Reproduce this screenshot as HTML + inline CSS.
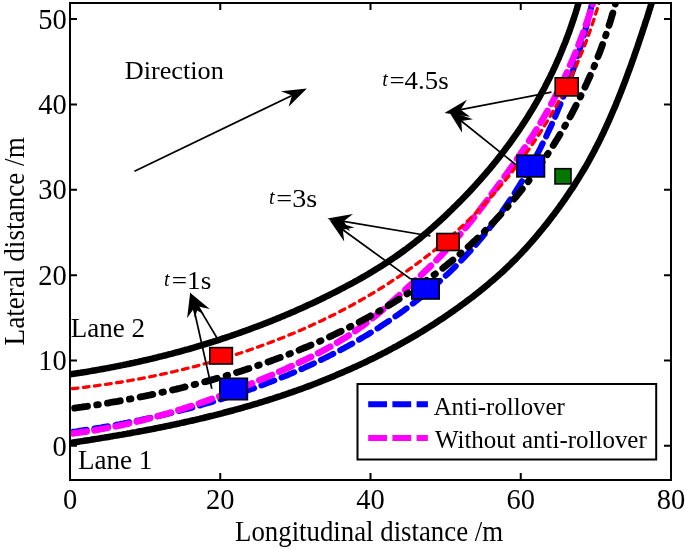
<!DOCTYPE html>
<html><head><meta charset="utf-8"><style>html,body{margin:0;padding:0;background:#fff;width:685px;height:549px;overflow:hidden}svg{display:block;will-change:transform}</style></head>
<body><svg width="685" height="549" viewBox="0 0 685 549"><rect x="0" y="0" width="685" height="549" fill="#fff"/><defs><clipPath id="ax"><rect x="70" y="3" width="601" height="477"/></clipPath></defs><g clip-path="url(#ax)" fill="none"><path d="M59.6,433.6L61.4,433.4L63.2,433.1L65.0,432.9L66.8,432.6L68.6,432.4L70.4,432.1L72.3,431.9L74.1,431.6L75.9,431.4L77.7,431.1L79.5,430.8L81.4,430.6L83.2,430.3L85.0,430.0L86.8,429.7L88.7,429.4L90.5,429.2L92.3,428.9L94.2,428.6L96.0,428.3L97.8,428.0L99.6,427.7L101.5,427.4L103.3,427.0L105.1,426.7L107.0,426.4L108.8,426.1L110.6,425.8L112.5,425.4L114.3,425.1L116.1,424.8L118.0,424.4L119.8,424.1L121.7,423.7L123.5,423.4L125.3,423.0L127.2,422.7L129.0,422.3L130.8,421.9L132.7,421.6L134.5,421.2L136.4,420.8L138.2,420.4L140.0,420.1L141.9,419.7L143.7,419.3L145.5,418.9L147.4,418.5L149.2,418.1L151.1,417.7L152.9,417.3L154.7,416.9L156.6,416.4L158.4,416.0L160.2,415.6L162.1,415.2L163.9,414.7L165.8,414.3L167.6,413.9L169.4,413.4L171.3,413.0L173.1,412.5L174.9,412.1L176.8,411.6L178.6,411.1L180.4,410.7L182.3,410.2L184.1,409.7L185.9,409.2L187.7,408.8L189.6,408.3L191.4,407.8L193.2,407.3L195.1,406.8L196.9,406.3L198.7,405.8L200.5,405.3L202.3,404.7L204.2,404.2L206.0,403.7L207.8,403.2L209.6,402.6L211.4,402.1L213.3,401.6L215.1,401.0L216.9,400.5L218.7,399.9L220.5,399.3L222.3,398.8L224.1,398.2L225.9,397.6L227.7,397.1L229.5,396.5L231.3,395.9L233.1,395.3L234.9,394.7L236.7,394.1L238.5,393.5L240.3,392.9L242.1,392.3L243.9,391.7L245.7,391.1L247.5,390.5L249.3,389.8L251.1,389.2L252.9,388.6L254.6,387.9L256.4,387.3L258.2,386.6L260.0,386.0L261.7,385.3L263.5,384.6L265.3,384.0L267.1,383.3L268.8,382.6L270.6,381.9L272.4,381.3L274.1,380.6L275.9,379.9L277.6,379.2L279.4,378.5L281.1,377.8L282.9,377.0L284.6,376.3L286.4,375.6L288.1,374.9L289.9,374.1L291.6,373.4L293.3,372.6L295.1,371.9L296.8,371.1L298.5,370.4L300.2,369.6L302.0,368.9L303.7,368.1L305.4,367.3L307.1,366.5L308.8,365.7L310.5,365.0L312.2,364.2L313.9,363.4L315.6,362.6L317.3,361.7L319.0,360.9L320.7,360.1L322.4,359.3L324.1,358.4L325.8,357.6L327.5,356.8L329.1,355.9L330.8,355.1L332.5,354.2L334.2,353.4L335.8,352.5L337.5,351.6L339.1,350.7L340.8,349.9L342.4,349.0L344.1,348.1L345.7,347.2L347.4,346.3L349.0,345.4L350.7,344.5L352.3,343.6L353.9,342.6L355.5,341.7L357.2,340.8L358.8,339.8L360.4,338.9L362.0,337.9L363.6,337.0L365.2,336.0L366.8,335.1L368.4,334.1L370.0,333.1L371.6,332.1L373.2,331.1L374.7,330.2L376.3,329.2L377.9,328.2L379.5,327.2L381.0,326.1L382.6,325.1L384.1,324.1L385.7,323.1L387.2,322.0L388.8,321.0L390.3,319.9L391.9,318.9L393.4,317.8L394.9,316.8L396.4,315.7L398.0,314.6L399.5,313.6L401.0,312.5L402.5,311.4L404.0,310.3L405.5,309.2L407.0,308.1L408.5,307.0L410.0,305.8L411.4,304.7L412.9,303.6L414.4,302.5L415.8,301.3L417.3,300.2L418.8,299.0L420.2,297.9L421.7,296.7L423.1,295.5L424.5,294.4L426.0,293.2L427.4,292.0L428.8,290.8L430.2,289.6L431.6,288.4L433.0,287.2L434.4,286.0L435.8,284.7L437.2,283.5L438.6,282.3L440.0,281.0L441.4,279.8L442.7,278.5L444.1,277.3L445.5,276.0L446.8,274.7L448.2,273.5L449.5,272.2L450.9,270.9L452.2,269.6L453.5,268.3L454.9,267.0L456.2,265.7L457.5,264.4L458.8,263.1L460.1,261.7L461.4,260.4L462.7,259.0L464.0,257.7L465.2,256.3L466.5,255.0L467.8,253.6L469.0,252.2L470.3,250.9L471.5,249.5L472.8,248.1L474.0,246.7L475.3,245.3L476.5,243.9L477.7,242.5L478.9,241.0L480.1,239.6L481.3,238.2L482.5,236.8L483.7,235.3L484.9,233.9L486.1,232.4L487.3,231.0L488.4,229.5L489.6,228.0L490.8,226.5L491.9,225.1L493.0,223.6L494.2,222.1L495.3,220.6L496.4,219.1L497.6,217.6L498.7,216.1L499.8,214.6L500.9,213.1L502.0,211.5L503.1,210.0L504.2,208.5L505.3,206.9L506.3,205.4L507.4,203.8L508.5,202.3L509.5,200.7L510.6,199.2L511.6,197.6L512.6,196.0L513.7,194.5L514.7,192.9L515.7,191.3L516.7,189.7L517.7,188.1L518.7,186.5L519.7,184.9L520.7,183.3L521.7,181.7L522.7,180.1L523.6,178.5L524.6,176.9L525.6,175.2L526.5,173.6L527.5,172.0L528.4,170.4L529.3,168.7L530.2,167.1L531.2,165.4L532.1,163.8L533.0,162.1L533.9,160.5L534.8,158.8L535.7,157.2L536.6,155.5L537.4,153.8L538.3,152.1L539.2,150.5L540.0,148.8L540.9,147.1L541.7,145.4L542.6,143.7L543.4,142.0L544.3,140.4L545.1,138.7L545.9,137.0L546.7,135.3L547.5,133.5L548.3,131.8L549.1,130.1L549.9,128.4L550.7,126.7L551.5,125.0L552.2,123.3L553.0,121.5L553.8,119.8L554.5,118.1L555.3,116.4L556.0,114.6L556.8,112.9L557.5,111.1L558.2,109.4L558.9,107.7L559.7,105.9L560.4,104.2L561.1,102.4L561.8,100.7L562.5,98.9L563.2,97.2L563.8,95.4L564.5,93.7L565.2,91.9L565.9,90.1L566.5,88.4L567.2,86.6L567.8,84.8L568.5,83.1L569.1,81.3L569.8,79.5L570.4,77.8L571.0,76.0L571.6,74.2L572.2,72.4L572.9,70.7L573.5,68.9L574.1,67.1L574.7,65.3L575.2,63.5L575.8,61.7L576.4,60.0L577.0,58.2L577.5,56.4L578.1,54.6L578.7,52.8L579.2,51.0L579.8,49.2L580.3,47.4L580.8,45.7L581.4,43.9L581.9,42.1L582.4,40.3L582.9,38.5L583.5,36.7L584.0,34.9L584.5,33.1L585.0,31.3L585.4,29.5L585.9,27.7L586.4,25.9L586.9,24.1L587.4,22.3L587.8,20.5L588.3,18.7L588.8,16.9L589.2,15.1L589.7,13.3L590.1,11.5L590.5,9.8L591.0,8.0L591.4,6.2L591.8,4.4L592.3,2.6L592.7,0.8L593.1,-1.0L593.5,-2.8L593.9,-4.6L594.3,-6.4" stroke="#0000ff" stroke-width="6" stroke-dasharray="13.8 7.8" stroke-dashoffset="8.04" stroke-linecap="round"/><path d="M59.3,435.0L61.1,434.8L63.0,434.6L64.8,434.4L66.7,434.2L68.5,434.0L70.3,433.8L72.2,433.5L74.0,433.3L75.9,433.1L77.7,432.8L79.5,432.6L81.4,432.3L83.2,432.1L85.0,431.8L86.9,431.5L88.7,431.2L90.5,430.9L92.4,430.7L94.2,430.4L96.0,430.0L97.8,429.7L99.6,429.4L101.5,429.1L103.3,428.8L105.1,428.4L106.9,428.1L108.7,427.7L110.5,427.4L112.4,427.0L114.2,426.7L116.0,426.3L117.8,425.9L119.6,425.5L121.4,425.2L123.2,424.8L125.0,424.4L126.8,424.0L128.6,423.6L130.4,423.2L132.2,422.7L134.0,422.3L135.8,421.9L137.6,421.4L139.4,421.0L141.2,420.6L143.0,420.1L144.8,419.7L146.6,419.2L148.3,418.7L150.1,418.3L151.9,417.8L153.7,417.3L155.5,416.8L157.3,416.3L159.0,415.8L160.8,415.4L162.6,414.8L164.4,414.3L166.1,413.8L167.9,413.3L169.7,412.8L171.5,412.3L173.2,411.7L175.0,411.2L176.8,410.7L178.5,410.1L180.3,409.6L182.1,409.0L183.8,408.4L185.6,407.9L187.3,407.3L189.1,406.7L190.8,406.2L192.6,405.6L194.4,405.0L196.1,404.4L197.9,403.8L199.6,403.2L201.4,402.6L203.1,402.0L204.9,401.4L206.6,400.8L208.4,400.2L210.1,399.6L211.8,398.9L213.6,398.3L215.3,397.7L217.1,397.1L218.8,396.4L220.5,395.8L222.3,395.1L224.0,394.5L225.7,393.8L227.5,393.2L229.2,392.5L230.9,391.8L232.6,391.2L234.4,390.5L236.1,389.8L237.8,389.1L239.5,388.5L241.3,387.8L243.0,387.1L244.7,386.4L246.4,385.7L248.1,385.0L249.9,384.3L251.6,383.6L253.3,382.9L255.0,382.2L256.7,381.4L258.4,380.7L260.1,380.0L261.8,379.3L263.5,378.6L265.2,377.8L266.9,377.1L268.6,376.4L270.3,375.6L272.0,374.9L273.7,374.1L275.4,373.4L277.1,372.6L278.8,371.9L280.5,371.1L282.2,370.4L283.9,369.6L285.6,368.9L287.3,368.1L289.0,367.3L290.7,366.5L292.4,365.8L294.0,365.0L295.7,364.2L297.4,363.4L299.1,362.6L300.7,361.8L302.4,361.1L304.1,360.3L305.8,359.4L307.4,358.6L309.1,357.8L310.7,357.0L312.4,356.2L314.0,355.3L315.7,354.5L317.3,353.6L319.0,352.8L320.6,351.9L322.2,351.1L323.8,350.2L325.4,349.3L327.1,348.4L328.7,347.5L330.3,346.6L331.9,345.7L333.5,344.8L335.0,343.9L336.6,342.9L338.2,342.0L339.8,341.1L341.3,340.1L342.9,339.1L344.4,338.2L346.0,337.2L347.5,336.2L349.1,335.2L350.6,334.2L352.1,333.1L353.6,332.1L355.1,331.1L356.6,330.0L358.1,329.0L359.6,327.9L361.1,326.9L362.6,325.8L364.1,324.7L365.5,323.6L367.0,322.5L368.4,321.4L369.9,320.2L371.3,319.1L372.8,318.0L374.2,316.8L375.6,315.7L377.1,314.5L378.5,313.3L379.9,312.2L381.3,311.0L382.7,309.8L384.1,308.6L385.5,307.4L386.9,306.2L388.3,305.0L389.7,303.8L391.1,302.6L392.5,301.3L393.9,300.1L395.3,298.9L396.6,297.6L398.0,296.4L399.4,295.2L400.8,293.9L402.1,292.7L403.5,291.4L404.9,290.2L406.2,288.9L407.6,287.7L409.0,286.4L410.3,285.2L411.7,283.9L413.1,282.7L414.4,281.4L415.8,280.1L417.1,278.9L418.5,277.6L419.8,276.3L421.2,275.1L422.5,273.8L423.9,272.5L425.2,271.2L426.6,269.9L427.9,268.7L429.2,267.4L430.5,266.1L431.9,264.8L433.2,263.5L434.5,262.2L435.8,260.9L437.1,259.5L438.4,258.2L439.7,256.9L441.0,255.6L442.2,254.2L443.5,252.9L444.8,251.6L446.0,250.2L447.3,248.9L448.6,247.5L449.8,246.1L451.0,244.8L452.3,243.4L453.5,242.0L454.7,240.6L455.9,239.3L457.1,237.9L458.3,236.5L459.5,235.1L460.7,233.7L461.9,232.3L463.1,230.8L464.3,229.4L465.4,228.0L466.6,226.6L467.8,225.2L468.9,223.7L470.1,222.3L471.2,220.8L472.4,219.4L473.5,218.0L474.7,216.5L475.8,215.1L476.9,213.6L478.1,212.2L479.2,210.7L480.3,209.2L481.4,207.8L482.6,206.3L483.7,204.8L484.8,203.4L485.9,201.9L487.0,200.4L488.1,199.0L489.2,197.5L490.3,196.0L491.4,194.5L492.5,193.0L493.6,191.6L494.7,190.1L495.8,188.6L496.9,187.1L498.0,185.6L499.1,184.1L500.2,182.6L501.3,181.1L502.4,179.6L503.5,178.1L504.6,176.6L505.6,175.1L506.7,173.6L507.8,172.1L508.9,170.6L509.9,169.1L511.0,167.6L512.1,166.1L513.1,164.6L514.2,163.1L515.3,161.6L516.3,160.1L517.4,158.5L518.4,157.0L519.5,155.5L520.5,154.0L521.5,152.4L522.6,150.9L523.6,149.4L524.6,147.9L525.7,146.3L526.7,144.8L527.7,143.2L528.7,141.7L529.7,140.1L530.7,138.6L531.7,137.0L532.7,135.5L533.7,133.9L534.7,132.4L535.6,130.8L536.6,129.2L537.6,127.7L538.5,126.1L539.5,124.5L540.5,122.9L541.4,121.4L542.3,119.8L543.3,118.2L544.2,116.6L545.1,115.0L546.0,113.4L547.0,111.8L547.9,110.2L548.8,108.6L549.6,107.0L550.5,105.4L551.4,103.8L552.3,102.1L553.2,100.5L554.0,98.9L554.9,97.3L555.7,95.6L556.6,94.0L557.4,92.4L558.2,90.7L559.0,89.1L559.9,87.4L560.7,85.8L561.5,84.1L562.3,82.5L563.1,80.8L563.9,79.1L564.6,77.5L565.4,75.8L566.2,74.1L566.9,72.5L567.7,70.8L568.5,69.1L569.2,67.4L569.9,65.7L570.7,64.0L571.4,62.4L572.1,60.7L572.8,59.0L573.6,57.3L574.3,55.6L575.0,53.9L575.7,52.2L576.3,50.5L577.0,48.7L577.7,47.0L578.4,45.3L579.0,43.6L579.7,41.9L580.4,40.2L581.0,38.4L581.7,36.7L582.3,35.0L582.9,33.3L583.6,31.5L584.2,29.8L584.8,28.1L585.4,26.3L586.0,24.6L586.6,22.8L587.2,21.1L587.8,19.4L588.4,17.6L589.0,15.9L589.6,14.1L590.2,12.4L590.7,10.6L591.3,8.9L591.8,7.1L592.4,5.3L592.9,3.6L593.5,1.8L594.0,0.1L594.6,-1.7L595.1,-3.5L595.6,-5.2" stroke="#ff00ff" stroke-width="6.5" stroke-dasharray="13.8 7.8" stroke-dashoffset="7.79" stroke-linecap="round"/><path d="M60.1,375.8L61.8,375.5L63.5,375.3L65.2,375.1L66.9,374.8L68.6,374.6L70.3,374.3L72.0,374.1L73.7,373.8L75.4,373.6L77.1,373.3L78.8,373.0L80.5,372.8L82.2,372.5L83.9,372.2L85.6,371.9L87.3,371.7L89.0,371.4L90.7,371.1L92.4,370.8L94.1,370.5L95.8,370.2L97.5,369.9L99.2,369.6L100.9,369.3L102.6,369.0L104.2,368.7L105.9,368.4L107.6,368.1L109.3,367.8L111.0,367.4L112.7,367.1L114.4,366.8L116.1,366.4L117.8,366.1L119.4,365.8L121.1,365.4L122.8,365.1L124.5,364.7L126.2,364.4L127.9,364.0L129.5,363.7L131.2,363.3L132.9,363.0L134.6,362.6L136.3,362.2L137.9,361.9L139.6,361.5L141.3,361.1L143.0,360.7L144.7,360.3L146.3,360.0L148.0,359.6L149.7,359.2L151.4,358.8L153.0,358.4L154.7,358.0L156.4,357.6L158.0,357.2L159.7,356.7L161.4,356.3L163.0,355.9L164.7,355.5L166.4,355.1L168.0,354.6L169.7,354.2L171.4,353.8L173.0,353.3L174.7,352.9L176.3,352.4L178.0,352.0L179.7,351.6L181.3,351.1L183.0,350.6L184.6,350.2L186.3,349.7L187.9,349.3L189.6,348.8L191.2,348.3L192.9,347.8L194.5,347.4L196.2,346.9L197.8,346.4L199.5,345.9L201.1,345.4L202.8,344.9L204.4,344.4L206.1,343.9L207.7,343.4L209.3,342.9L211.0,342.4L212.6,341.9L214.3,341.3L215.9,340.8L217.5,340.3L219.2,339.8L220.8,339.2L222.4,338.7L224.1,338.2L225.7,337.6L227.3,337.1L229.0,336.5L230.6,336.0L232.2,335.4L233.8,334.9L235.5,334.3L237.1,333.7L238.7,333.2L240.3,332.6L241.9,332.0L243.6,331.4L245.2,330.9L246.8,330.3L248.4,329.7L250.0,329.1L251.6,328.5L253.2,327.9L254.8,327.3L256.4,326.7L258.1,326.1L259.7,325.5L261.3,324.9L262.9,324.2L264.5,323.6L266.1,323.0L267.7,322.4L269.3,321.7L270.9,321.1L272.5,320.5L274.1,319.8L275.6,319.2L277.2,318.5L278.8,317.9L280.4,317.2L282.0,316.6L283.6,315.9L285.2,315.2L286.8,314.6L288.3,313.9L289.9,313.2L291.5,312.5L293.1,311.9L294.7,311.2L296.2,310.5L297.8,309.8L299.4,309.1L300.9,308.4L302.5,307.7L304.1,307.0L305.6,306.3L307.2,305.5L308.8,304.8L310.3,304.1L311.9,303.4L313.5,302.7L315.0,301.9L316.6,301.2L318.1,300.4L319.7,299.7L321.2,299.0L322.8,298.2L324.3,297.5L325.9,296.7L327.4,295.9L329.0,295.2L330.5,294.4L332.0,293.6L333.6,292.9L335.1,292.1L336.6,291.3L338.2,290.5L339.7,289.7L341.2,288.9L342.8,288.1L344.3,287.3L345.8,286.5L347.3,285.7L348.9,284.9L350.4,284.1L351.9,283.3L353.4,282.5L354.9,281.6L356.4,280.8L357.9,280.0L359.4,279.1L360.9,278.3L362.4,277.4L363.9,276.6L365.4,275.7L366.9,274.8L368.4,274.0L369.8,273.1L371.3,272.2L372.8,271.3L374.3,270.4L375.7,269.5L377.2,268.6L378.6,267.7L380.1,266.8L381.5,265.9L383.0,265.0L384.4,264.1L385.9,263.1L387.3,262.2L388.7,261.2L390.2,260.3L391.6,259.3L393.0,258.4L394.4,257.4L395.8,256.5L397.2,255.5L398.6,254.5L400.0,253.5L401.4,252.5L402.8,251.5L404.2,250.5L405.6,249.5L406.9,248.5L408.3,247.4L409.7,246.4L411.0,245.4L412.4,244.3L413.7,243.3L415.1,242.2L416.4,241.1L417.7,240.1L419.1,239.0L420.4,237.9L421.7,236.8L423.0,235.7L424.3,234.6L425.6,233.5L426.9,232.4L428.2,231.3L429.5,230.1L430.8,229.0L432.1,227.9L433.4,226.7L434.7,225.6L435.9,224.4L437.2,223.3L438.5,222.1L439.7,221.0L441.0,219.8L442.3,218.6L443.5,217.5L444.8,216.3L446.0,215.1L447.3,213.9L448.5,212.7L449.7,211.5L451.0,210.4L452.2,209.2L453.4,207.9L454.7,206.7L455.9,205.5L457.1,204.3L458.3,203.1L459.5,201.9L460.7,200.7L461.9,199.4L463.1,198.2L464.3,197.0L465.5,195.7L466.7,194.5L467.9,193.2L469.1,192.0L470.3,190.7L471.4,189.5L472.6,188.2L473.8,186.9L474.9,185.7L476.1,184.4L477.2,183.1L478.4,181.8L479.5,180.6L480.7,179.3L481.8,178.0L483.0,176.7L484.1,175.4L485.2,174.1L486.3,172.8L487.4,171.5L488.6,170.2L489.7,168.9L490.8,167.5L491.9,166.2L493.0,164.9L494.0,163.6L495.1,162.2L496.2,160.9L497.3,159.5L498.4,158.2L499.4,156.8L500.5,155.5L501.5,154.1L502.6,152.8L503.6,151.4L504.7,150.1L505.7,148.7L506.7,147.3L507.8,145.9L508.8,144.5L509.8,143.2L510.8,141.8L511.8,140.4L512.8,139.0L513.8,137.6L514.8,136.2L515.8,134.8L516.8,133.4L517.8,132.0L518.7,130.5L519.7,129.1L520.6,127.7L521.6,126.3L522.5,124.8L523.5,123.4L524.4,122.0L525.4,120.5L526.3,119.1L527.2,117.6L528.1,116.2L529.0,114.7L529.9,113.3L530.8,111.8L531.7,110.4L532.6,108.9L533.5,107.4L534.3,105.9L535.2,104.5L536.1,103.0L536.9,101.5L537.8,100.0L538.6,98.5L539.5,97.0L540.3,95.5L541.1,94.0L541.9,92.5L542.8,91.0L543.6,89.5L544.4,88.0L545.2,86.4L546.0,84.9L546.7,83.4L547.5,81.9L548.3,80.3L549.1,78.8L549.8,77.3L550.6,75.7L551.3,74.2L552.1,72.6L552.8,71.1L553.5,69.5L554.3,68.0L555.0,66.4L555.7,64.9L556.4,63.3L557.1,61.7L557.8,60.2L558.5,58.6L559.2,57.0L559.8,55.4L560.5,53.9L561.2,52.3L561.8,50.7L562.5,49.1L563.1,47.5L563.8,45.9L564.4,44.3L565.1,42.7L565.7,41.1L566.3,39.5L566.9,37.9L567.5,36.3L568.1,34.7L568.7,33.1L569.3,31.5L569.9,29.8L570.4,28.2L571.0,26.6L571.6,25.0L572.1,23.3L572.7,21.7L573.2,20.1L573.8,18.5L574.3,16.8L574.8,15.2L575.4,13.5L575.9,11.9L576.4,10.2L576.9,8.6L577.4,6.9L577.9,5.3L578.4,3.6L578.8,2.0L579.3,0.3L579.8,-1.3L580.2,-3.0L580.7,-4.7" stroke="#000" stroke-width="6.5" stroke-linecap="round"/><path d="M58.4,444.6L60.4,444.3L62.4,444.1L64.4,443.8L66.4,443.5L68.4,443.2L70.4,442.9L72.4,442.6L74.4,442.3L76.4,442.0L78.3,441.7L80.3,441.4L82.3,441.1L84.3,440.8L86.3,440.5L88.3,440.2L90.3,439.9L92.3,439.5L94.3,439.2L96.3,438.9L98.3,438.6L100.3,438.3L102.3,437.9L104.3,437.6L106.3,437.3L108.3,437.0L110.2,436.6L112.2,436.3L114.2,435.9L116.2,435.6L118.2,435.3L120.2,434.9L122.2,434.6L124.2,434.2L126.2,433.9L128.2,433.5L130.1,433.2L132.1,432.8L134.1,432.4L136.1,432.1L138.1,431.7L140.1,431.3L142.1,431.0L144.0,430.6L146.0,430.2L148.0,429.8L150.0,429.5L152.0,429.1L154.0,428.7L155.9,428.3L157.9,427.9L159.9,427.5L161.9,427.1L163.9,426.7L165.8,426.3L167.8,425.9L169.8,425.5L171.8,425.0L173.7,424.6L175.7,424.2L177.7,423.8L179.7,423.4L181.6,422.9L183.6,422.5L185.6,422.0L187.6,421.6L189.5,421.2L191.5,420.7L193.5,420.3L195.4,419.8L197.4,419.3L199.4,418.9L201.3,418.4L203.3,418.0L205.2,417.5L207.2,417.0L209.2,416.5L211.1,416.0L213.1,415.6L215.0,415.1L217.0,414.6L218.9,414.1L220.9,413.6L222.9,413.1L224.8,412.5L226.8,412.0L228.7,411.5L230.6,411.0L232.6,410.5L234.5,409.9L236.5,409.4L238.4,408.9L240.4,408.3L242.3,407.8L244.3,407.2L246.2,406.7L248.1,406.1L250.1,405.6L252.0,405.0L253.9,404.4L255.9,403.8L257.8,403.3L259.7,402.7L261.7,402.1L263.6,401.5L265.5,400.9L267.4,400.3L269.3,399.7L271.3,399.1L273.2,398.5L275.1,397.8L277.0,397.2L278.9,396.6L280.9,396.0L282.8,395.3L284.7,394.7L286.6,394.0L288.5,393.4L290.4,392.7L292.3,392.1L294.2,391.4L296.1,390.7L298.0,390.0L299.9,389.4L301.8,388.7L303.7,388.0L305.6,387.3L307.5,386.6L309.4,385.9L311.3,385.2L313.1,384.4L315.0,383.7L316.9,383.0L318.8,382.3L320.7,381.5L322.5,380.8L324.4,380.0L326.3,379.3L328.2,378.5L330.0,377.8L331.9,377.0L333.8,376.2L335.6,375.4L337.5,374.6L339.3,373.8L341.2,373.0L343.1,372.2L344.9,371.4L346.8,370.6L348.6,369.8L350.5,369.0L352.3,368.1L354.1,367.3L356.0,366.5L357.8,365.6L359.7,364.8L361.5,363.9L363.3,363.1L365.2,362.2L367.0,361.3L368.8,360.4L370.6,359.5L372.4,358.7L374.2,357.8L376.1,356.9L377.9,355.9L379.7,355.0L381.5,354.1L383.3,353.2L385.1,352.3L386.9,351.3L388.7,350.4L390.5,349.4L392.2,348.5L394.0,347.5L395.8,346.6L397.6,345.6L399.3,344.6L401.1,343.6L402.9,342.6L404.6,341.7L406.4,340.7L408.2,339.7L409.9,338.6L411.7,337.6L413.4,336.6L415.1,335.6L416.9,334.6L418.6,333.5L420.3,332.5L422.1,331.4L423.8,330.4L425.5,329.3L427.2,328.2L428.9,327.2L430.7,326.1L432.4,325.0L434.1,323.9L435.8,322.8L437.4,321.7L439.1,320.6L440.8,319.5L442.5,318.4L444.2,317.3L445.8,316.1L447.5,315.0L449.2,313.9L450.8,312.7L452.5,311.6L454.1,310.4L455.8,309.2L457.4,308.1L459.1,306.9L460.7,305.7L462.3,304.5L463.9,303.3L465.6,302.1L467.2,300.9L468.8,299.7L470.4,298.5L472.0,297.3L473.6,296.1L475.2,294.8L476.7,293.6L478.3,292.3L479.9,291.1L481.5,289.8L483.0,288.6L484.6,287.3L486.1,286.0L487.7,284.7L489.2,283.4L490.7,282.1L492.3,280.8L493.8,279.5L495.3,278.2L496.8,276.8L498.3,275.5L499.8,274.2L501.3,272.8L502.8,271.5L504.3,270.1L505.7,268.7L507.2,267.3L508.6,265.9L510.1,264.6L511.5,263.1L512.9,261.7L514.4,260.3L515.8,258.9L517.2,257.4L518.6,256.0L520.0,254.6L521.4,253.1L522.7,251.6L524.1,250.1L525.5,248.7L526.8,247.2L528.2,245.7L529.5,244.2L530.9,242.7L532.2,241.1L533.5,239.6L534.8,238.1L536.1,236.6L537.4,235.0L538.7,233.5L540.0,231.9L541.3,230.3L542.6,228.8L543.8,227.2L545.1,225.6L546.4,224.1L547.6,222.5L548.9,220.9L550.1,219.3L551.3,217.7L552.5,216.1L553.8,214.5L555.0,212.8L556.2,211.2L557.4,209.6L558.6,208.0L559.8,206.3L560.9,204.7L562.1,203.1L563.3,201.4L564.4,199.8L565.6,198.1L566.7,196.4L567.9,194.8L569.0,193.1L570.1,191.4L571.3,189.7L572.4,188.1L573.5,186.4L574.6,184.7L575.6,183.0L576.7,181.3L577.8,179.6L578.9,177.9L579.9,176.1L581.0,174.4L582.0,172.7L583.0,171.0L584.1,169.2L585.1,167.5L586.1,165.8L587.1,164.0L588.1,162.3L589.1,160.5L590.1,158.7L591.0,157.0L592.0,155.2L592.9,153.4L593.9,151.6L594.8,149.9L595.7,148.1L596.7,146.3L597.6,144.5L598.5,142.7L599.4,140.9L600.3,139.1L601.1,137.3L602.0,135.5L602.9,133.7L603.8,131.8L604.6,130.0L605.5,128.2L606.3,126.4L607.1,124.5L608.0,122.7L608.8,120.9L609.6,119.0L610.4,117.2L611.2,115.3L612.0,113.5L612.8,111.6L613.6,109.8L614.4,107.9L615.2,106.1L616.0,104.2L616.7,102.3L617.5,100.5L618.3,98.6L619.0,96.7L619.8,94.9L620.5,93.0L621.3,91.1L622.0,89.2L622.7,87.3L623.4,85.5L624.2,83.6L624.9,81.7L625.6,79.8L626.3,77.9L627.0,76.0L627.7,74.1L628.4,72.2L629.1,70.3L629.8,68.4L630.5,66.5L631.2,64.6L631.8,62.7L632.5,60.8L633.2,58.9L633.9,57.0L634.5,55.1L635.2,53.2L635.8,51.3L636.5,49.4L637.2,47.5L637.8,45.6L638.5,43.7L639.1,41.8L639.7,39.8L640.4,37.9L641.0,36.0L641.7,34.1L642.3,32.2L642.9,30.3L643.5,28.4L644.2,26.5L644.8,24.5L645.4,22.6L646.0,20.7L646.7,18.8L647.3,16.9L647.9,15.0L648.5,13.0L649.1,11.1L649.7,9.2L650.3,7.3L650.9,5.4L651.6,3.5L652.2,1.6L652.8,-0.4L653.4,-2.3L654.0,-4.2L654.6,-6.1" stroke="#000" stroke-width="6.5" stroke-linecap="round"/><path d="M59.6,410.1L61.4,409.9L63.2,409.7L65.0,409.4L66.8,409.2L68.6,408.9L70.4,408.7L72.2,408.5L74.0,408.2L75.9,407.9L77.7,407.7L79.5,407.4L81.3,407.2L83.1,406.9L84.9,406.6L86.8,406.4L88.6,406.1L90.4,405.8L92.2,405.5L94.1,405.2L95.9,405.0L97.7,404.7L99.5,404.4L101.4,404.1L103.2,403.8L105.0,403.5L106.8,403.2L108.7,402.9L110.5,402.5L112.3,402.2L114.1,401.9L116.0,401.6L117.8,401.3L119.6,400.9L121.5,400.6L123.3,400.3L125.1,399.9L127.0,399.6L128.8,399.2L130.6,398.9L132.4,398.5L134.3,398.2L136.1,397.8L137.9,397.5L139.8,397.1L141.6,396.7L143.4,396.4L145.3,396.0L147.1,395.6L148.9,395.2L150.8,394.8L152.6,394.4L154.4,394.0L156.3,393.7L158.1,393.2L159.9,392.8L161.7,392.4L163.6,392.0L165.4,391.6L167.2,391.2L169.1,390.8L170.9,390.4L172.7,389.9L174.6,389.5L176.4,389.1L178.2,388.6L180.0,388.2L181.9,387.7L183.7,387.3L185.5,386.8L187.3,386.4L189.2,385.9L191.0,385.4L192.8,385.0L194.6,384.5L196.4,384.0L198.3,383.5L200.1,383.1L201.9,382.6L203.7,382.1L205.5,381.6L207.4,381.1L209.2,380.6L211.0,380.1L212.8,379.6L214.6,379.1L216.4,378.5L218.2,378.0L220.0,377.5L221.9,377.0L223.7,376.4L225.5,375.9L227.3,375.4L229.1,374.8L230.9,374.3L232.7,373.7L234.5,373.1L236.3,372.6L238.1,372.0L239.9,371.5L241.7,370.9L243.5,370.3L245.3,369.7L247.1,369.1L248.9,368.6L250.6,368.0L252.4,367.4L254.2,366.8L256.0,366.2L257.8,365.5L259.6,364.9L261.3,364.3L263.1,363.7L264.9,363.1L266.7,362.4L268.4,361.8L270.2,361.2L272.0,360.5L273.8,359.9L275.5,359.2L277.3,358.6L279.1,357.9L280.8,357.3L282.6,356.6L284.3,355.9L286.1,355.2L287.8,354.6L289.6,353.9L291.3,353.2L293.1,352.5L294.8,351.8L296.6,351.1L298.3,350.4L300.1,349.7L301.8,349.0L303.5,348.2L305.3,347.5L307.0,346.8L308.7,346.1L310.4,345.3L312.2,344.6L313.9,343.8L315.6,343.1L317.3,342.3L319.0,341.6L320.8,340.8L322.5,340.0L324.2,339.3L325.9,338.5L327.6,337.7L329.3,336.9L331.0,336.1L332.7,335.3L334.4,334.5L336.1,333.7L337.7,332.9L339.4,332.1L341.1,331.3L342.8,330.5L344.5,329.6L346.1,328.8L347.8,328.0L349.5,327.1L351.1,326.3L352.8,325.4L354.5,324.6L356.1,323.7L357.8,322.8L359.4,322.0L361.1,321.1L362.7,320.2L364.4,319.3L366.0,318.4L367.6,317.6L369.3,316.7L370.9,315.7L372.5,314.8L374.1,313.9L375.8,313.0L377.4,312.1L379.0,311.2L380.6,310.2L382.2,309.3L383.8,308.3L385.4,307.4L387.0,306.4L388.6,305.5L390.2,304.5L391.8,303.6L393.4,302.6L394.9,301.6L396.5,300.6L398.1,299.6L399.6,298.7L401.2,297.7L402.8,296.7L404.3,295.6L405.9,294.6L407.4,293.6L409.0,292.6L410.5,291.6L412.1,290.5L413.6,289.5L415.1,288.5L416.7,287.4L418.2,286.4L419.7,285.3L421.2,284.2L422.7,283.2L424.2,282.1L425.7,281.0L427.2,279.9L428.7,278.8L430.2,277.7L431.7,276.6L433.2,275.5L434.7,274.4L436.2,273.3L437.6,272.2L439.1,271.1L440.6,269.9L442.0,268.8L443.5,267.7L444.9,266.5L446.4,265.4L447.8,264.2L449.3,263.0L450.7,261.9L452.1,260.7L453.5,259.5L455.0,258.3L456.4,257.1L457.8,255.9L459.2,254.7L460.6,253.5L462.0,252.3L463.4,251.1L464.8,249.9L466.2,248.6L467.5,247.4L468.9,246.2L470.3,244.9L471.6,243.7L473.0,242.4L474.4,241.2L475.7,239.9L477.1,238.6L478.4,237.3L479.7,236.1L481.1,234.8L482.4,233.5L483.7,232.2L485.0,230.9L486.3,229.5L487.6,228.2L488.9,226.9L490.2,225.6L491.5,224.2L492.8,222.9L494.1,221.6L495.4,220.2L496.6,218.9L497.9,217.5L499.2,216.1L500.4,214.8L501.7,213.4L502.9,212.0L504.2,210.6L505.4,209.2L506.6,207.8L507.9,206.4L509.1,205.0L510.3,203.6L511.5,202.2L512.7,200.8L513.9,199.3L515.1,197.9L516.3,196.5L517.5,195.0L518.6,193.6L519.8,192.1L521.0,190.7L522.1,189.2L523.3,187.8L524.4,186.3L525.6,184.8L526.7,183.4L527.9,181.9L529.0,180.4L530.1,178.9L531.2,177.4L532.4,175.9L533.5,174.4L534.6,172.9L535.7,171.4L536.8,169.9L537.8,168.3L538.9,166.8L540.0,165.3L541.1,163.8L542.1,162.2L543.2,160.7L544.2,159.1L545.3,157.6L546.3,156.0L547.4,154.5L548.4,152.9L549.4,151.3L550.4,149.8L551.4,148.2L552.5,146.6L553.5,145.0L554.4,143.5L555.4,141.9L556.4,140.3L557.4,138.7L558.4,137.1L559.3,135.5L560.3,133.9L561.3,132.3L562.2,130.6L563.2,129.0L564.1,127.4L565.0,125.8L565.9,124.2L566.9,122.5L567.8,120.9L568.7,119.3L569.6,117.6L570.5,116.0L571.4,114.3L572.3,112.7L573.1,111.0L574.0,109.4L574.9,107.7L575.7,106.0L576.6,104.4L577.4,102.7L578.3,101.0L579.1,99.4L580.0,97.7L580.8,96.0L581.6,94.3L582.4,92.6L583.2,90.9L584.0,89.2L584.8,87.5L585.6,85.8L586.4,84.1L587.2,82.4L587.9,80.7L588.7,79.0L589.5,77.3L590.2,75.6L590.9,73.9L591.7,72.2L592.4,70.4L593.1,68.7L593.9,67.0L594.6,65.3L595.3,63.5L596.0,61.8L596.7,60.1L597.4,58.3L598.0,56.6L598.7,54.8L599.4,53.1L600.1,51.3L600.7,49.6L601.4,47.8L602.0,46.1L602.6,44.3L603.3,42.6L603.9,40.8L604.5,39.0L605.1,37.3L605.7,35.5L606.3,33.7L606.9,32.0L607.5,30.2L608.1,28.4L608.6,26.6L609.2,24.9L609.8,23.1L610.3,21.3L610.9,19.5L611.4,17.7L611.9,16.0L612.5,14.2L613.0,12.4L613.5,10.6L614.0,8.8L614.5,7.0L615.0,5.2L615.5,3.4L615.9,1.6L616.4,-0.2L616.9,-2.0L617.3,-3.8L617.8,-5.6" stroke="#000" stroke-width="6.8" stroke-dasharray="13 9.3 1.6 9.3" stroke-dashoffset="18.02" stroke-linecap="round"/><path d="M59.8,389.9L61.5,389.7L63.3,389.5L65.0,389.4L66.8,389.2L68.6,389.0L70.3,388.8L72.1,388.7L73.9,388.5L75.6,388.3L77.4,388.1L79.2,387.9L80.9,387.7L82.7,387.5L84.4,387.3L86.2,387.0L88.0,386.8L89.7,386.6L91.5,386.4L93.3,386.2L95.1,385.9L96.8,385.7L98.6,385.4L100.4,385.2L102.1,384.9L103.9,384.7L105.7,384.4L107.4,384.2L109.2,383.9L111.0,383.6L112.7,383.4L114.5,383.1L116.3,382.8L118.0,382.5L119.8,382.3L121.6,382.0L123.3,381.7L125.1,381.4L126.9,381.1L128.6,380.8L130.4,380.5L132.2,380.1L134.0,379.8L135.7,379.5L137.5,379.2L139.3,378.9L141.0,378.5L142.8,378.2L144.5,377.8L146.3,377.5L148.1,377.2L149.8,376.8L151.6,376.4L153.4,376.1L155.1,375.7L156.9,375.4L158.7,375.0L160.4,374.6L162.2,374.2L163.9,373.8L165.7,373.5L167.5,373.1L169.2,372.7L171.0,372.3L172.7,371.9L174.5,371.5L176.2,371.0L178.0,370.6L179.8,370.2L181.5,369.8L183.3,369.4L185.0,368.9L186.8,368.5L188.5,368.1L190.3,367.6L192.0,367.2L193.8,366.7L195.5,366.3L197.3,365.8L199.0,365.3L200.7,364.9L202.5,364.4L204.2,363.9L206.0,363.4L207.7,363.0L209.5,362.5L211.2,362.0L212.9,361.5L214.7,361.0L216.4,360.5L218.1,360.0L219.9,359.5L221.6,358.9L223.3,358.4L225.1,357.9L226.8,357.4L228.5,356.8L230.2,356.3L232.0,355.8L233.7,355.2L235.4,354.7L237.1,354.1L238.8,353.5L240.5,353.0L242.3,352.4L244.0,351.8L245.7,351.3L247.4,350.7L249.1,350.1L250.8,349.5L252.5,348.9L254.2,348.3L255.9,347.7L257.6,347.1L259.3,346.5L261.0,345.9L262.7,345.3L264.4,344.7L266.1,344.0L267.8,343.4L269.5,342.8L271.2,342.1L272.9,341.5L274.5,340.9L276.2,340.2L277.9,339.5L279.6,338.9L281.3,338.2L282.9,337.6L284.6,336.9L286.3,336.2L287.9,335.5L289.6,334.8L291.3,334.1L292.9,333.5L294.6,332.8L296.2,332.1L297.9,331.3L299.6,330.6L301.2,329.9L302.9,329.2L304.5,328.5L306.1,327.7L307.8,327.0L309.4,326.3L311.1,325.5L312.7,324.8L314.3,324.0L316.0,323.3L317.6,322.5L319.2,321.7L320.8,321.0L322.5,320.2L324.1,319.4L325.7,318.6L327.3,317.9L328.9,317.1L330.5,316.3L332.1,315.5L333.8,314.7L335.4,313.9L337.0,313.0L338.6,312.2L340.1,311.4L341.7,310.6L343.3,309.7L344.9,308.9L346.5,308.1L348.1,307.2L349.7,306.4L351.2,305.5L352.8,304.7L354.4,303.8L355.9,302.9L357.5,302.1L359.1,301.2L360.6,300.3L362.2,299.4L363.7,298.5L365.3,297.6L366.8,296.7L368.4,295.8L369.9,294.9L371.4,294.0L373.0,293.1L374.5,292.2L376.0,291.2L377.6,290.3L379.1,289.4L380.6,288.4L382.1,287.5L383.6,286.5L385.1,285.6L386.6,284.6L388.1,283.7L389.6,282.7L391.1,281.7L392.6,280.7L394.1,279.7L395.6,278.8L397.1,277.8L398.6,276.8L400.0,275.8L401.5,274.8L403.0,273.8L404.4,272.7L405.9,271.7L407.4,270.7L408.8,269.7L410.3,268.6L411.7,267.6L413.2,266.5L414.6,265.5L416.0,264.4L417.5,263.4L418.9,262.3L420.3,261.2L421.8,260.2L423.2,259.1L424.6,258.0L426.0,256.9L427.4,255.8L428.8,254.7L430.2,253.6L431.6,252.5L433.0,251.4L434.4,250.3L435.8,249.2L437.2,248.1L438.5,246.9L439.9,245.8L441.3,244.7L442.6,243.5L444.0,242.4L445.4,241.2L446.7,240.0L448.1,238.9L449.4,237.7L450.7,236.5L452.1,235.4L453.4,234.2L454.7,233.0L456.1,231.8L457.4,230.6L458.7,229.4L460.0,228.2L461.3,227.0L462.6,225.8L463.9,224.5L465.2,223.3L466.5,222.1L467.8,220.8L469.1,219.6L470.3,218.3L471.6,217.1L472.9,215.8L474.1,214.6L475.4,213.3L476.7,212.0L477.9,210.8L479.1,209.5L480.4,208.2L481.6,206.9L482.9,205.6L484.1,204.3L485.3,203.0L486.5,201.7L487.7,200.4L488.9,199.1L490.2,197.8L491.4,196.4L492.5,195.1L493.7,193.8L494.9,192.4L496.1,191.1L497.3,189.8L498.4,188.4L499.6,187.0L500.8,185.7L501.9,184.3L503.1,183.0L504.2,181.6L505.4,180.2L506.5,178.8L507.6,177.4L508.8,176.1L509.9,174.7L511.0,173.3L512.1,171.9L513.2,170.5L514.3,169.0L515.4,167.6L516.5,166.2L517.6,164.8L518.7,163.4L519.8,161.9L520.9,160.5L521.9,159.1L523.0,157.6L524.0,156.2L525.1,154.7L526.1,153.3L527.2,151.8L528.2,150.4L529.2,148.9L530.3,147.4L531.3,145.9L532.3,144.5L533.3,143.0L534.3,141.5L535.3,140.0L536.3,138.5L537.3,137.0L538.3,135.5L539.3,134.0L540.3,132.5L541.2,131.0L542.2,129.5L543.1,128.0L544.1,126.5L545.0,124.9L546.0,123.4L546.9,121.9L547.8,120.3L548.8,118.8L549.7,117.3L550.6,115.7L551.5,114.2L552.4,112.6L553.3,111.0L554.2,109.5L555.1,107.9L556.0,106.4L556.8,104.8L557.7,103.2L558.6,101.6L559.4,100.1L560.3,98.5L561.1,96.9L562.0,95.3L562.8,93.7L563.6,92.1L564.4,90.5L565.3,88.9L566.1,87.3L566.9,85.7L567.7,84.1L568.5,82.5L569.3,80.9L570.0,79.2L570.8,77.6L571.6,76.0L572.3,74.4L573.1,72.7L573.8,71.1L574.6,69.4L575.3,67.8L576.1,66.2L576.8,64.5L577.5,62.9L578.2,61.2L578.9,59.5L579.6,57.9L580.3,56.2L581.0,54.6L581.7,52.9L582.4,51.2L583.1,49.5L583.7,47.9L584.4,46.2L585.0,44.5L585.7,42.8L586.3,41.1L587.0,39.4L587.6,37.8L588.2,36.1L588.8,34.4L589.4,32.7L590.0,31.0L590.6,29.3L591.2,27.5L591.8,25.8L592.4,24.1L592.9,22.4L593.5,20.7L594.1,19.0L594.6,17.2L595.2,15.5L595.7,13.8L596.2,12.1L596.8,10.3L597.3,8.6L597.8,6.9L598.3,5.1L598.8,3.4L599.3,1.6L599.8,-0.1L600.2,-1.9L600.7,-3.6L601.2,-5.4" stroke="#ff0000" stroke-width="3.3" stroke-dasharray="5.7 5.5" stroke-dashoffset="9.88" stroke-linecap="round"/></g><rect x="209.8" y="347.6" width="22.6" height="16.4" fill="#ff0000" stroke="#000" stroke-width="1.6"/><rect x="219.8" y="378.3" width="27.6" height="21.4" fill="#0000ff" stroke="#000" stroke-width="1.6"/><rect x="436.9" y="233.5" width="22.2" height="17.0" fill="#ff0000" stroke="#000" stroke-width="1.6"/><rect x="411.8" y="278.8" width="27.4" height="20.2" fill="#0000ff" stroke="#000" stroke-width="1.6"/><rect x="555.2" y="77.8" width="23.0" height="18.1" fill="#ff0000" stroke="#000" stroke-width="1.6"/><rect x="516.9" y="155.2" width="27.6" height="21.7" fill="#0000ff" stroke="#000" stroke-width="1.6"/><rect x="555.0" y="168.7" width="16.0" height="15.2" fill="#007800" stroke="#000" stroke-width="1.6"/><rect x="70" y="3" width="601" height="477" fill="none" stroke="#000" stroke-width="2"/><path d="M220.25,480v-7M220.25,3v7M370.50,480v-7M370.50,3v7M520.75,480v-7M520.75,3v7M70,445.86h7M671,445.86h-7M70,360.50h7M671,360.50h-7M70,275.14h7M671,275.14h-7M70,189.78h7M671,189.78h-7M70,104.42h7M671,104.42h-7M70,19.06h7M671,19.06h-7" stroke="#000" stroke-width="2" fill="none"/><text x="70.00" y="509.2" text-anchor="middle" style="font-family:'Liberation Serif',serif;font-size:28.5px">0</text><text x="220.25" y="509.2" text-anchor="middle" style="font-family:'Liberation Serif',serif;font-size:28.5px">20</text><text x="370.50" y="509.2" text-anchor="middle" style="font-family:'Liberation Serif',serif;font-size:28.5px">40</text><text x="520.75" y="509.2" text-anchor="middle" style="font-family:'Liberation Serif',serif;font-size:28.5px">60</text><text x="671.00" y="509.2" text-anchor="middle" style="font-family:'Liberation Serif',serif;font-size:28.5px">80</text><text x="66.8" y="455.56" text-anchor="end" style="font-family:'Liberation Serif',serif;font-size:28.5px">0</text><text x="66.8" y="370.20" text-anchor="end" style="font-family:'Liberation Serif',serif;font-size:28.5px">10</text><text x="66.8" y="284.84" text-anchor="end" style="font-family:'Liberation Serif',serif;font-size:28.5px">20</text><text x="66.8" y="199.48" text-anchor="end" style="font-family:'Liberation Serif',serif;font-size:28.5px">30</text><text x="66.8" y="114.12" text-anchor="end" style="font-family:'Liberation Serif',serif;font-size:28.5px">40</text><text x="66.8" y="28.76" text-anchor="end" style="font-family:'Liberation Serif',serif;font-size:28.5px">50</text><text x="235.0735" y="540.6" textLength="268.0" lengthAdjust="spacingAndGlyphs" style="font-family:'Liberation Serif',serif;font-size:28.5px" >Longitudinal distance /m</text><text x="0" y="0" textLength="208.2" lengthAdjust="spacingAndGlyphs" transform="translate(23.5,345.43) rotate(-90)" style="font-family:'Liberation Serif',serif;font-size:28.5px">Lateral distance /m</text><text x="70.8025" y="337" textLength="74.3" lengthAdjust="spacingAndGlyphs" style="font-family:'Liberation Serif',serif;font-size:27.5px" >Lane 2</text><text x="78.1025" y="468.5" textLength="74.3" lengthAdjust="spacingAndGlyphs" style="font-family:'Liberation Serif',serif;font-size:27.5px" >Lane 1</text><text x="124.7895" y="78.65" textLength="99" lengthAdjust="spacingAndGlyphs" style="font-family:'Liberation Serif',serif;font-size:24.5px" >Direction</text><line x1="134.5" y1="171.2" x2="292.0" y2="95.5" stroke="#000" stroke-width="1.7"/><path d="M306.9,88.4L288.6,106.8L292.0,95.5L281.0,91.2Z" fill="#000"/><line x1="217.3" y1="338.5" x2="198.3" y2="306.6" stroke="#000" stroke-width="1.7"/><path d="M189.8,292.4L209.8,309.0L198.3,306.6L194.9,317.9Z" fill="#000"/><line x1="211.8" y1="388.8" x2="193.8" y2="308.5" stroke="#000" stroke-width="1.7"/><path d="M190.2,292.4L204.0,314.4L193.8,308.5L187.1,318.2Z" fill="#000"/><line x1="430.5" y1="236.0" x2="343.7" y2="221.3" stroke="#000" stroke-width="1.7"/><path d="M327.4,218.6L353.0,214.1L343.7,221.3L350.1,231.3Z" fill="#000"/><line x1="410.8" y1="279.1" x2="342.8" y2="229.7" stroke="#000" stroke-width="1.7"/><path d="M329.5,220.0L354.4,227.4L342.8,229.7L344.2,241.4Z" fill="#000"/><line x1="551.4" y1="92.1" x2="460.7" y2="109.7" stroke="#000" stroke-width="1.7"/><path d="M444.5,112.9L466.9,99.7L460.7,109.7L470.2,116.8Z" fill="#000"/><line x1="516.0" y1="164.8" x2="461.3" y2="121.0" stroke="#000" stroke-width="1.7"/><path d="M448.4,110.7L473.0,119.2L461.3,121.0L462.1,132.8Z" fill="#000"/><text x="164.0" y="285.6" style="font-family:'Liberation Serif',serif;font-style:italic;font-size:20px">t</text><text x="171.70000000000002" y="288.9" textLength="39.6" lengthAdjust="spacingAndGlyphs" style="font-family:'Liberation Serif',serif;font-size:25px">=1s</text><text x="268.9" y="204.4" style="font-family:'Liberation Serif',serif;font-style:italic;font-size:20px">t</text><text x="276.3" y="206.8" textLength="40.9" lengthAdjust="spacingAndGlyphs" style="font-family:'Liberation Serif',serif;font-size:24.5px">=3s</text><text x="382.2" y="85.6" style="font-family:'Liberation Serif',serif;font-style:italic;font-size:20px">t</text><text x="389.40000000000003" y="88.6" textLength="59.2" lengthAdjust="spacingAndGlyphs" style="font-family:'Liberation Serif',serif;font-size:25px">=4.5s</text><rect x="357.5" y="384" width="298.7" height="75.5" fill="#fff" stroke="#000" stroke-width="2"/><path d="M368.2,404.3H427.9" stroke="#0000ff" stroke-width="6" stroke-dasharray="18.8 5.4"/><path d="M368.2,437.9H427.9" stroke="#ff00ff" stroke-width="6" stroke-dasharray="18.8 5.4"/><text x="433.65" y="414.6" textLength="131.2" lengthAdjust="spacingAndGlyphs" style="font-family:'Liberation Serif',serif;font-size:25px" >Anti-rollover</text><text x="434.875" y="448" textLength="211.9" lengthAdjust="spacingAndGlyphs" style="font-family:'Liberation Serif',serif;font-size:25px" >Without anti-rollover</text></svg></body></html>
